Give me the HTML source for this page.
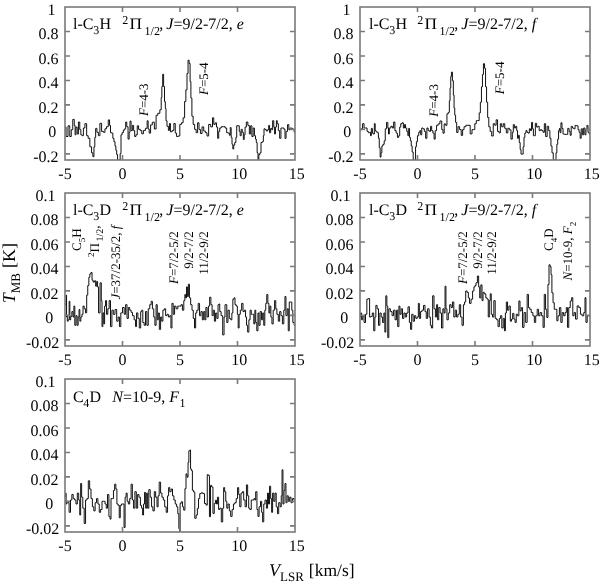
<!DOCTYPE html>
<html><head><meta charset="utf-8"><style>
html,body{margin:0;padding:0;background:#fff;}
svg{display:block;will-change:transform;}
text{font-family:"Liberation Serif",serif;fill:#000;text-rendering:geometricPrecision;}
.tl{font-size:16px;}
.tt{font-size:16px;}
.an{font-size:13px;}
.sb{font-size:12px;}
.sa{font-size:9px;}
.sa2{font-size:10px;}
.it{font-style:italic;}
.al{font-size:18px;}
.als{font-size:13px;}
</style></head>
<body><svg width="600" height="584" viewBox="0 0 600 584">
<rect width="600" height="584" fill="#fff"/>
<clipPath id="c65_7"><rect x="65" y="7" width="230" height="153"/></clipPath>
<polyline clip-path="url(#c65_7)" points="65,127.1 66.05,127.1 66.05,136.5 68,136.5 68,125.8 69.75,125.8 69.75,136.5 71.25,136.5 71.25,129.7 72.75,129.7 72.75,119.4 74.25,119.4 74.25,125.4 75.1,125.4 75.1,134.8 75.95,134.8 75.95,127.1 77.2,127.1 77.2,134 78.45,134 78.45,122 79.75,122 79.75,129.7 80.85,129.7 80.85,134.8 82.15,134.8 82.15,135.7 83.4,135.7 83.4,128 84.9,128 84.9,123.7 86.65,123.7 86.65,135.7 88.15,135.7 88.15,138.3 89.85,138.3 89.85,146.8 91.55,146.8 91.55,152.8 92.85,152.8 92.85,156.7 93.95,156.7 93.95,146.8 94.8,146.8 94.8,137.4 95.65,137.4 95.65,128.4 96.9,128.4 96.9,132.3 98.4,132.3 98.4,135.7 99.9,135.7 99.9,123.3 101.6,123.3 101.6,131.4 103.5,131.4 103.5,132.3 104.95,132.3 104.95,128.8 106.45,128.8 106.45,126.7 108.25,126.7 108.25,119.9 109.55,119.9 109.55,125.4 110.5,125.4 110.5,132.7 111.75,132.7 111.75,133.1 112.85,133.1 112.85,138.3 113.95,138.3 113.95,141.7 115,141.7 115,146 115.85,146 115.85,150.3 116.7,150.3 116.7,154.5 117.55,154.5 117.55,160 118.85,160 118.85,160 120.15,160 120.15,153.7 121,153.7 121,134.8 122.05,134.8 122.05,132.7 123.35,132.7 123.35,130.1 124.65,130.1 124.65,128.8 125.7,128.8 125.7,122 126.75,122 126.75,126.7 128.05,126.7 128.05,139.1 129.15,139.1 129.15,132.3 130,132.3 130,121.1 131.05,121.1 131.05,130.6 132.35,130.6 132.35,125.4 133.65,125.4 133.65,130.6 134.7,130.6 134.7,136.5 135.95,136.5 135.95,134.8 137.25,134.8 137.25,125.8 138.55,125.8 138.55,129.3 140.25,129.3 140.25,130.6 141.75,130.6 141.75,133.8 143.4,133.8 143.4,130.4 145.45,130.4 145.45,128.3 147.15,128.3 147.15,120.8 148.15,120.8 148.15,129 149.2,129 149.2,133.1 150.6,133.1 150.6,124.9 152.3,124.9 152.3,122.2 154.35,122.2 154.35,129 156.1,129 156.1,115.3 157.8,115.3 157.8,113.3 159.85,113.3 159.85,109.8 161.2,109.8 161.2,97.5 161.85,97.5 161.85,86.5 162.7,86.5 162.7,74.2 163.6,74.2 163.6,86.5 164.5,86.5 164.5,101.6 165.35,101.6 165.35,108.5 166,108.5 166,120.8 167,120.8 167,126.3 168.4,126.3 168.4,130.4 169.45,130.4 169.45,123.5 170.45,123.5 170.45,131.8 172.15,131.8 172.15,130.4 173.9,130.4 173.9,123.5 175.25,123.5 175.25,133.1 176.6,133.1 176.6,136.5 178.15,136.5 178.15,136 179.8,136 179.8,124.4 181.45,124.4 181.45,122.8 183.1,122.8 183.1,117.8 184.6,117.8 184.6,101.4 185.85,101.4 185.85,89.9 187,89.9 187,73.4 188.05,73.4 188.05,60.2 189.1,60.2 189.1,63.5 190.1,63.5 190.1,81.6 190.9,81.6 190.9,98.1 191.9,98.1 191.9,116.2 193.15,116.2 193.15,124.4 194.65,124.4 194.65,129.4 196.15,129.4 196.15,132.7 197.6,132.7 197.6,122.8 199,122.8 199,129.4 200.4,129.4 200.4,133.5 202.05,133.5 202.05,126.9 203.7,126.9 203.7,131 205.35,131 205.35,132.7 207,132.7 207,136 208.65,136 208.65,124.4 210.7,124.4 210.7,126.9 212.5,126.9 212.5,117.8 213.75,117.8 213.75,124.4 215.2,124.4 215.2,122.8 216.5,122.8 216.5,127.1 217.65,127.1 217.65,138.3 218.7,138.3 218.7,131.4 219.75,131.4 219.75,128 221.25,128 221.25,126.7 223.2,126.7 223.2,126.7 225.15,126.7 225.15,128 226.65,128 226.65,132.7 228.15,132.7 228.15,133.1 229.4,133.1 229.4,135.3 230.25,135.3 230.25,127.6 231.15,127.6 231.15,137.4 232,137.4 232,144.3 232.85,144.3 232.85,149 233.7,149 233.7,145.1 234.75,145.1 234.75,142.5 235.85,142.5 235.85,137.4 236.7,137.4 236.7,125.8 237.95,125.8 237.95,125.8 239.25,125.8 239.25,131.4 240.15,131.4 240.15,135.7 241.2,135.7 241.2,129.3 242.25,129.3 242.25,132.3 243.35,132.3 243.35,139.5 244.2,139.5 244.2,134.8 245.05,134.8 245.05,127.1 246.35,127.1 246.35,122 247.85,122 247.85,125.4 249.35,125.4 249.35,134 250.65,134 250.65,125.8 251.9,125.8 251.9,136.5 253.15,136.5 253.15,128 254.45,128 254.45,135.7 255.5,135.7 255.5,139.1 256.3,139.1 256.3,142.5 257.15,142.5 257.15,152.8 258,152.8 258,159.7 258.85,159.7 258.85,154.5 259.95,154.5 259.95,152.8 261,152.8 261,142.5 262.25,142.5 262.25,141.7 263.35,141.7 263.35,135.7 264,135.7 264,128.8 265.05,128.8 265.05,129.7 266.35,129.7 266.35,131 267.65,131 267.65,129.7 268.7,129.7 268.7,125.4 269.55,125.4 269.55,132.7 270.65,132.7 270.65,128.4 271.7,128.4 271.7,129.7 272.65,129.7 272.65,120.7 273.75,120.7 273.75,127.1 274.6,127.1 274.6,134 275.45,134 275.45,127.1 276.4,127.1 276.4,120.7 277.25,120.7 277.25,123.7 278.35,123.7 278.35,130.6 279.65,130.6 279.65,138.3 280.95,138.3 280.95,128 282.45,128 282.45,128 283.95,128 283.95,129.3 285,129.3 285,138.3 286.05,138.3 286.05,131.4 287.55,131.4 287.55,124.6 288.85,124.6 288.85,129.7 290.15,129.7 290.15,128 291.65,128 291.65,128.4 292.9,128.4 292.9,129.7 294.25,129.7 294.25,132.3 295,132.3" fill="none" stroke="#111" stroke-width="1.0" stroke-linejoin="miter" stroke-miterlimit="3"/>
<path d="M65,31.48h5M295,31.48h-5M65,55.96h5M295,55.96h-5M65,80.44h5M295,80.44h-5M65,104.92h5M295,104.92h-5M65,129.4h5M295,129.4h-5M65,153.88h5M295,153.88h-5M122.5,160v-5M122.5,7v5M180,160v-5M180,7v5M237.5,160v-5M237.5,7v5" stroke="#7a7a7a" stroke-width="1.6" fill="none"/>
<rect x="65" y="7" width="230" height="153" fill="none" stroke="#7a7a7a" stroke-width="1.6"/>
<text x="55.5" y="15" class="tl" text-anchor="end">1</text>
<text x="58.5" y="39.48" class="tl" text-anchor="end">0.8</text>
<text x="58.5" y="63.96" class="tl" text-anchor="end">0.6</text>
<text x="58.5" y="88.44" class="tl" text-anchor="end">0.4</text>
<text x="58.5" y="112.92" class="tl" text-anchor="end">0.2</text>
<text x="56.3" y="137.4" class="tl" text-anchor="end">0</text>
<text x="58.5" y="161.88" class="tl" text-anchor="end">-0.2</text>
<text x="65" y="178.5" class="tl" text-anchor="middle">-5</text>
<text x="122.5" y="178.5" class="tl" text-anchor="middle">0</text>
<text x="180" y="178.5" class="tl" text-anchor="middle">5</text>
<text x="239.3" y="178.5" class="tl" text-anchor="middle">10</text>
<text x="296.8" y="178.5" class="tl" text-anchor="middle">15</text>
<clipPath id="c360_7"><rect x="360" y="7" width="230" height="153"/></clipPath>
<polyline clip-path="url(#c360_7)" points="360,130.1 360.85,130.1 360.85,128.8 362.55,128.8 362.55,123.7 364.05,123.7 364.05,128 365.55,128 365.55,128 367.05,128 367.05,131.4 368.35,131.4 368.35,132.7 369.65,132.7 369.65,132.3 370.5,132.3 370.5,135.7 371.35,135.7 371.35,128.4 372.4,128.4 372.4,133.1 373.25,133.1 373.25,134 374.35,134 374.35,123.7 375.2,123.7 375.2,130.6 376.05,130.6 376.05,131.8 377.35,131.8 377.35,132.7 378.4,132.7 378.4,138.3 379.25,138.3 379.25,147.7 380.15,147.7 380.15,157.1 381,157.1 381,152.8 381.85,152.8 381.85,146 382.95,146 382.95,144.3 384.2,144.3 384.2,140.8 385.25,140.8 385.25,128.8 386.55,128.8 386.55,122.4 387.85,122.4 387.85,128 388.5,128 388.5,134 389.35,134 389.35,128 390.85,128 390.85,126.3 392.35,126.3 392.35,128 393.65,128 393.65,122 394.9,122 394.9,130.6 396.15,130.6 396.15,133.1 397.45,133.1 397.45,137.4 398.7,137.4 398.7,135.7 399.7,135.7 399.7,127.1 400.75,127.1 400.75,123.7 402.05,123.7 402.05,122.8 403.35,122.8 403.35,128 404.45,128 404.45,124.6 405.5,124.6 405.5,128 406.75,128 406.75,131.4 407.85,131.4 407.85,135.7 408.7,135.7 408.7,128.4 409.55,128.4 409.55,137.4 410.4,137.4 410.4,140.8 411.25,140.8 411.25,146 412.15,146 412.15,152 413.2,152 413.2,160 414.45,160 414.45,160 415.55,160 415.55,146.8 416.4,146.8 416.4,141.7 417.45,141.7 417.45,135.7 418.75,135.7 418.75,132.3 419.85,132.3 419.85,130.6 420.7,130.6 420.7,134.8 421.75,134.8 421.75,128 423.05,128 423.05,128.8 424.35,128.8 424.35,131.4 425.65,131.4 425.65,138.3 426.9,138.3 426.9,128 428.15,128 428.15,130.6 429.45,130.6 429.45,131.4 430.55,131.4 430.55,126.3 431.65,126.3 431.65,130.6 432.9,130.6 432.9,133.1 434.1,133.1 434.1,139.1 435.2,139.1 435.2,130.6 436.55,130.6 436.55,125.3 438.15,125.3 438.15,123.9 439.95,123.9 439.95,121 441.75,121 441.75,129.6 443,129.6 443,133.2 444.2,133.2 444.2,123.9 445.65,123.9 445.65,125.3 446.95,125.3 446.95,113.8 448.25,113.8 448.25,112.4 449.35,112.4 449.35,100.8 450.05,100.8 450.05,87.9 450.75,87.9 450.75,76.4 451.45,76.4 451.45,72.1 452.4,72.1 452.4,80.7 453.35,80.7 453.35,95.1 454.05,95.1 454.05,108 454.75,108 454.75,115.2 455.6,115.2 455.6,122.4 456.7,122.4 456.7,132.5 458,132.5 458,126.7 459.6,126.7 459.6,129.6 461.2,129.6 461.2,135.4 462.6,135.4 462.6,129.6 464.05,129.6 464.05,126.7 465.85,126.7 465.85,125.3 468,125.3 468,125.3 470.2,125.3 470.2,133.9 472,133.9 472,129.6 473.4,129.6 473.4,129.6 474.8,129.6 474.8,123.7 476.3,123.7 476.3,120.6 477.85,120.6 477.85,120.6 479.2,120.6 479.2,112.9 480.35,112.9 480.35,102.2 481.45,102.2 481.45,86.8 482.45,86.8 482.45,74.5 483.45,74.5 483.45,63.7 484.55,63.7 484.55,68.3 485.55,68.3 485.55,86.8 486.55,86.8 486.55,102.2 487.65,102.2 487.65,117.5 488.8,117.5 488.8,126.8 490.15,126.8 490.15,131.4 491.7,131.4 491.7,136 493.25,136 493.25,123.7 494.75,123.7 494.75,125.2 496.15,125.2 496.15,119.8 497.55,119.8 497.55,131.4 499.05,131.4 499.05,132.9 500.35,132.9 500.35,123.7 501.7,123.7 501.7,126.8 503.25,126.8 503.25,123.7 504.75,123.7 504.75,128.3 506.3,128.3 506.3,132.9 507.85,132.9 507.85,128.3 509.4,128.3 509.4,129.8 510.95,129.8 510.95,139.1 512.3,139.1 512.3,132.3 513.3,132.3 513.3,124.6 514.35,124.6 514.35,128 515.65,128 515.65,126.3 516.7,126.3 516.7,130.6 517.55,130.6 517.55,138.3 518.45,138.3 518.45,135.3 519.3,135.3 519.3,142.5 520.15,142.5 520.15,149.4 521,149.4 521,154.1 522.05,154.1 522.05,154.1 523.15,154.1 523.15,146.8 524,146.8 524,137.4 524.85,137.4 524.85,133.1 525.95,133.1 525.95,130.6 527,130.6 527,132.3 528.05,132.3 528.05,133.1 529.35,133.1 529.35,128.8 530.5,128.8 530.5,130.6 531.55,130.6 531.55,122.4 532.55,122.4 532.55,128.8 533.4,128.8 533.4,135.7 534.25,135.7 534.25,135.7 535.35,135.7 535.35,123.3 536.65,123.3 536.65,127.1 537.95,127.1 537.95,126.3 539.2,126.3 539.2,130.6 540.45,130.6 540.45,129.7 541.75,129.7 541.75,130.6 543.05,130.6 543.05,132.3 544.35,132.3 544.35,123.7 545.65,123.7 545.65,136.5 547.15,136.5 547.15,126.3 548.65,126.3 548.65,130.6 549.9,130.6 549.9,138.3 550.95,138.3 550.95,146 552,146 552,152.8 553.25,152.8 553.25,160 554.75,160 554.75,160 556,160 556,152.8 556.85,152.8 556.85,144.3 557.7,144.3 557.7,139.1 558.55,139.1 558.55,130.6 559.45,130.6 559.45,128.4 560.1,128.4 560.1,132.7 560.95,132.7 560.95,122.8 562,122.8 562,128.4 563.05,128.4 563.05,134 564.55,134 564.55,134.4 566.25,134.4 566.25,134.4 567.75,134.4 567.75,128.4 569.05,128.4 569.05,131.4 570.15,131.4 570.15,135.3 571.2,135.3 571.2,126.3 572.45,126.3 572.45,128 573.75,128 573.75,128.8 575.05,128.8 575.05,125.4 576.55,125.4 576.55,125.8 578.05,125.8 578.05,129.7 579.15,129.7 579.15,132.3 580.15,132.3 580.15,138.3 581.2,138.3 581.2,128.8 582.35,128.8 582.35,134.8 583.65,134.8 583.65,128 584.9,128 584.9,134.8 585.95,134.8 585.95,129.7 586.95,129.7 586.95,125.4 588,125.4 588,132.3 589.25,132.3 589.25,134 590,134" fill="none" stroke="#111" stroke-width="1.0" stroke-linejoin="miter" stroke-miterlimit="3"/>
<path d="M360,31.48h5M590,31.48h-5M360,55.96h5M590,55.96h-5M360,80.44h5M590,80.44h-5M360,104.92h5M590,104.92h-5M360,129.4h5M590,129.4h-5M360,153.88h5M590,153.88h-5M417.5,160v-5M417.5,7v5M475,160v-5M475,7v5M532.5,160v-5M532.5,7v5" stroke="#7a7a7a" stroke-width="1.6" fill="none"/>
<rect x="360" y="7" width="230" height="153" fill="none" stroke="#7a7a7a" stroke-width="1.6"/>
<text x="350.5" y="15" class="tl" text-anchor="end">1</text>
<text x="353.5" y="39.48" class="tl" text-anchor="end">0.8</text>
<text x="353.5" y="63.96" class="tl" text-anchor="end">0.6</text>
<text x="353.5" y="88.44" class="tl" text-anchor="end">0.4</text>
<text x="353.5" y="112.92" class="tl" text-anchor="end">0.2</text>
<text x="351.3" y="137.4" class="tl" text-anchor="end">0</text>
<text x="353.5" y="161.88" class="tl" text-anchor="end">-0.2</text>
<text x="360" y="178.5" class="tl" text-anchor="middle">-5</text>
<text x="417.5" y="178.5" class="tl" text-anchor="middle">0</text>
<text x="475" y="178.5" class="tl" text-anchor="middle">5</text>
<text x="534.3" y="178.5" class="tl" text-anchor="middle">10</text>
<text x="591.8" y="178.5" class="tl" text-anchor="middle">15</text>
<clipPath id="c65_193"><rect x="65" y="193" width="230" height="153"/></clipPath>
<polyline clip-path="url(#c65_193)" points="65,305 65.5,305 65.5,305 66.15,305 66.15,295.1 66.55,295.1 66.55,317 66.95,317 66.95,315.7 67.3,315.7 67.3,321.2 68.15,321.2 68.15,319.8 69.15,319.8 69.15,301.3 69.85,301.3 69.85,319.8 70.7,319.8 70.7,316.4 71.85,316.4 71.85,311.6 73,311.6 73,317 73.9,317 73.9,306.1 74.8,306.1 74.8,325.3 75.95,325.3 75.95,315.7 77.1,315.7 77.1,325.3 78.15,325.3 78.15,317 79.05,317 79.05,309.5 79.85,309.5 79.85,321.2 80.85,321.2 80.85,317 81.95,317 81.95,314.3 83,314.3 83,306.1 84.2,306.1 84.2,308.8 85.55,308.8 85.55,312.9 86.7,312.9 86.7,295.1 87.75,295.1 87.75,285.5 88.85,285.5 88.85,277.3 89.85,277.3 89.85,273.9 91,273.9 91,272.5 92.05,272.5 92.05,280.1 93.1,280.1 93.1,282.1 94.45,282.1 94.45,280.8 95.65,280.8 95.65,286.2 96.7,286.2 96.7,281.4 97.55,281.4 97.55,286.9 98.55,286.9 98.55,312.9 100.05,312.9 100.05,282.8 101.3,282.8 101.3,300.6 102,300.6 102,326.6 102.85,326.6 102.85,312.9 103.75,312.9 103.75,323.9 104.6,323.9 104.6,306.1 105.55,306.1 105.55,300.6 106.55,300.6 106.55,314.3 107.8,314.3 107.8,308.8 109.15,308.8 109.15,300.6 110.5,300.6 110.5,326.6 111.9,326.6 111.9,310.2 113.3,310.2 113.3,314.3 115,314.3 115,309.5 116.7,309.5 116.7,321.2 118.1,321.2 118.1,317 119.45,317 119.45,326.6 120.8,326.6 120.8,312.9 122.5,312.9 122.5,307.5 124.2,307.5 124.2,314.3 125.6,314.3 125.6,304.7 127,304.7 127,318.4 128.35,318.4 128.35,307.5 129.7,307.5 129.7,310.2 131.1,310.2 131.1,312.3 132.45,312.3 132.45,315.7 134.15,315.7 134.15,319.8 135.55,319.8 135.55,326.6 136.55,326.6 136.55,312.9 137.9,312.9 137.9,318.4 139.3,318.4 139.3,328 140.7,328 140.7,311.6 141.75,311.6 141.75,310.2 142.8,310.2 142.8,322.5 144.15,322.5 144.15,325.3 145.5,325.3 145.5,311.6 146.9,311.6 146.9,325.3 148.25,325.3 148.25,308.8 149.75,308.8 149.75,304.7 151.15,304.7 151.15,301.3 152.4,301.3 152.4,308.8 153.75,308.8 153.75,317 154.9,317 154.9,325.3 156.1,325.3 156.1,304.7 157.25,304.7 157.25,319.8 158.25,319.8 158.25,313 159.35,313 159.35,329.4 160.6,329.4 160.6,317 161.75,317 161.75,321.2 162.9,321.2 162.9,310.2 164.3,310.2 164.3,308.8 165.65,308.8 165.65,315.7 167,315.7 167,314.3 168.4,314.3 168.4,317 169.8,317 169.8,315.7 170.95,315.7 170.95,328 171.95,328 171.95,303.4 173.2,303.4 173.2,314.3 174.55,314.3 174.55,306.1 176.05,306.1 176.05,308.8 177.8,308.8 177.8,306.1 179.55,306.1 179.55,306.1 181.05,306.1 181.05,304.7 182.4,304.7 182.4,310.2 183.8,310.2 183.8,300.6 184.85,300.6 184.85,294.5 185.65,294.5 185.65,297.9 186.5,297.9 186.5,286.9 187.4,286.9 187.4,296.5 188.4,296.5 188.4,284.2 189.45,284.2 189.45,297.9 190.65,297.9 190.65,304.7 192,304.7 192,310.2 193.25,310.2 193.25,318.4 194.5,318.4 194.5,328 195.65,328 195.65,313 196.8,313 196.8,310.2 198.2,310.2 198.2,303.4 199.55,303.4 199.55,315.7 200.9,315.7 200.9,311.6 202.3,311.6 202.3,319.8 203.65,319.8 203.65,311.6 204.8,311.6 204.8,319.8 205.85,319.8 205.85,307.5 207.1,307.5 207.1,317 208.45,317 208.45,306.1 209.65,306.1 209.65,297.2 210.9,297.2 210.9,304.7 212.1,304.7 212.1,315.7 213.25,315.7 213.25,310.2 214.4,310.2 214.4,321.2 215.6,321.2 215.6,313 216.85,313 216.85,318.4 218.05,318.4 218.05,304.7 218.9,304.7 218.9,304 219.75,304 219.75,311.6 221.1,311.6 221.1,315.7 222.7,315.7 222.7,334.9 224.05,334.9 224.05,317 225,317 225,304.7 225.9,304.7 225.9,304.7 226.8,304.7 226.8,322.5 227.95,322.5 227.95,310.2 229.3,310.2 229.3,318.4 230.7,318.4 230.7,319.8 231.85,319.8 231.85,313 232.85,313 232.85,299.2 233.95,299.2 233.95,297.9 235,297.9 235,304.7 236.2,304.7 236.2,306.1 237.35,306.1 237.35,314.3 238.2,314.3 238.2,328 239.1,328 239.1,314.3 240.3,314.3 240.3,310.2 241.65,310.2 241.65,303.4 243,303.4 243,311.6 244.4,311.6 244.4,310.2 245.55,310.2 245.55,317 246.55,317 246.55,325.3 247.65,325.3 247.65,332.1 248.9,332.1 248.9,319.8 250.1,319.8 250.1,310.2 251.25,310.2 251.25,314.3 252.6,314.3 252.6,314.3 253.8,314.3 253.8,323.9 254.85,323.9 254.85,310.2 255.75,310.2 255.75,322.5 256.8,322.5 256.8,330.8 257.95,330.8 257.95,313 258.9,313 258.9,325.3 260.1,325.3 260.1,311.6 261.45,311.6 261.45,319.8 262.65,319.8 262.65,313 263.75,313 263.75,325.3 264.8,325.3 264.8,310.2 265.75,310.2 265.75,303.4 266.75,303.4 266.75,294.5 267.85,294.5 267.85,303.4 268.9,303.4 268.9,313 269.85,313 269.85,306.1 270.85,306.1 270.85,317 271.95,317 271.95,323.9 273.2,323.9 273.2,310.2 274.6,310.2 274.6,300.6 275.75,300.6 275.75,308.8 276.9,308.8 276.9,314.3 278.3,314.3 278.3,321.2 279.65,321.2 279.65,311.6 281,311.6 281,315.7 282.4,315.7 282.4,323.9 283.8,323.9 283.8,310.2 284.95,310.2 284.95,296.5 285.95,296.5 285.95,315.7 287.2,315.7 287.2,308.8 288.25,308.8 288.25,330.8 289.25,330.8 289.25,302 290.6,302 290.6,302 291.8,302 291.8,310.2 292.85,310.2 292.85,322.5 294.2,322.5 294.2,325.3 295,325.3" fill="none" stroke="#111" stroke-width="1.0" stroke-linejoin="miter" stroke-miterlimit="3"/>
<path d="M65,217.48h5M295,217.48h-5M65,241.96h5M295,241.96h-5M65,266.44h5M295,266.44h-5M65,290.92h5M295,290.92h-5M65,315.4h5M295,315.4h-5M65,339.88h5M295,339.88h-5M122.5,346v-5M122.5,193v5M180,346v-5M180,193v5M237.5,346v-5M237.5,193v5" stroke="#7a7a7a" stroke-width="1.6" fill="none"/>
<rect x="65" y="193" width="230" height="153" fill="none" stroke="#7a7a7a" stroke-width="1.6"/>
<text x="55.5" y="201" class="tl" text-anchor="end">0.1</text>
<text x="58.5" y="225.48" class="tl" text-anchor="end">0.08</text>
<text x="58.5" y="249.96" class="tl" text-anchor="end">0.06</text>
<text x="58.5" y="274.44" class="tl" text-anchor="end">0.04</text>
<text x="58.5" y="298.92" class="tl" text-anchor="end">0.02</text>
<text x="53.3" y="323.4" class="tl" text-anchor="end">0</text>
<text x="59.3" y="347.88" class="tl" text-anchor="end">-0.02</text>
<text x="65" y="364.5" class="tl" text-anchor="middle">-5</text>
<text x="122.5" y="364.5" class="tl" text-anchor="middle">0</text>
<text x="180" y="364.5" class="tl" text-anchor="middle">5</text>
<text x="239.3" y="364.5" class="tl" text-anchor="middle">10</text>
<text x="296.8" y="364.5" class="tl" text-anchor="middle">15</text>
<clipPath id="c360_193"><rect x="360" y="193" width="230" height="153"/></clipPath>
<polyline clip-path="url(#c360_193)" points="360,317 360.55,317 360.55,313 361.6,313 361.6,319.8 362.75,319.8 362.75,315.7 364.1,315.7 364.1,322.5 365.5,322.5 365.5,314.3 366.85,314.3 366.85,299.2 368.2,299.2 368.2,298.6 369.6,298.6 369.6,317 370.95,317 370.95,316.4 372.3,316.4 372.3,313 373.7,313 373.7,330.8 374.85,330.8 374.85,317 375.85,317 375.85,305.4 377.1,305.4 377.1,308.8 378.5,308.8 378.5,325.3 379.85,325.3 379.85,313 381.2,313 381.2,317 382.6,317 382.6,322.5 383.85,322.5 383.85,313 384.85,313 384.85,332.1 385.8,332.1 385.8,295.8 386.85,295.8 386.85,306.1 387.75,306.1 387.75,337.6 388.8,337.6 388.8,308.8 390.35,308.8 390.35,311.6 392.05,311.6 392.05,315.7 393.55,315.7 393.55,310.2 395.05,310.2 395.05,319.8 396.45,319.8 396.45,310.2 397.7,310.2 397.7,326.6 398.9,326.6 398.9,306.1 399.95,306.1 399.95,314.3 401.15,314.3 401.15,308.8 402.5,308.8 402.5,318.4 403.9,318.4 403.9,313 405.25,313 405.25,317 406.6,317 406.6,313 408,313 408,306.8 409.4,306.8 409.4,322.5 410.55,322.5 410.55,329.4 411.7,329.4 411.7,314.3 413.1,314.3 413.1,321.2 414.45,321.2 414.45,315.7 415.8,315.7 415.8,318.4 417.2,318.4 417.2,317 418.35,317 418.35,303.4 419.35,303.4 419.35,318.4 420.6,318.4 420.6,311.6 422,311.6 422,310.2 423.5,310.2 423.5,305.4 425,305.4 425,311.6 426.25,311.6 426.25,318.4 427.6,318.4 427.6,308.8 429.1,308.8 429.1,317 430.35,317 430.35,325.3 431.45,325.3 431.45,328 432.65,328 432.65,295.8 434,295.8 434,308.8 435.4,308.8 435.4,317 436.6,317 436.6,304.7 437.6,304.7 437.6,319.8 438.75,319.8 438.75,307.5 440.1,307.5 440.1,313 441.5,313 441.5,328 442.85,328 442.85,308.8 444,308.8 444,313 445.05,313 445.05,286.2 445.95,286.2 445.95,308.8 446.95,308.8 446.95,319.8 448.3,319.8 448.3,313 449.7,313 449.7,304.7 451.1,304.7 451.1,307.5 452.45,307.5 452.45,302 453.8,302 453.8,317 455.2,317 455.2,310.2 456.55,310.2 456.55,317 457.9,317 457.9,314.3 459.3,314.3 459.3,304.7 460.65,304.7 460.65,317 462,317 462,325.3 463.4,325.3 463.4,304.7 464.55,304.7 464.55,302 465.7,302 465.7,291 467.1,291 467.1,292.4 468.35,292.4 468.35,297.9 469.55,297.9 469.55,303.4 471.05,303.4 471.05,299.2 472.6,299.2 472.6,291 473.95,291 473.95,286.9 475,286.9 475,285.5 476.05,285.5 476.05,282.8 477.4,282.8 477.4,276 478.65,276 478.65,286.9 479.7,286.9 479.7,297.9 480.85,297.9 480.85,284.9 482,284.9 482,300.6 483.05,300.6 483.05,292.4 484.3,292.4 484.3,293.8 485.8,293.8 485.8,297.9 487.15,297.9 487.15,299.2 488.25,299.2 488.25,317 489.3,317 489.3,300.6 490.25,300.6 490.25,293.8 491.25,293.8 491.25,314.3 492.5,314.3 492.5,317 493.85,317 493.85,300.6 495.2,300.6 495.2,318.4 496.6,318.4 496.6,319.8 498,319.8 498,326.6 499.35,326.6 499.35,318.4 500.55,318.4 500.55,315.7 501.8,315.7 501.8,328 503.2,328 503.2,318.4 504.45,318.4 504.45,330.8 505.4,330.8 505.4,313 506.35,313 506.35,302 507.55,302 507.55,310.2 508.9,310.2 508.9,306.1 510.3,306.1 510.3,321.2 511.5,321.2 511.5,319.1 512.65,319.1 512.65,313.4 513.9,313.4 513.9,319.1 515.05,319.1 515.05,322.4 516.25,322.4 516.25,314.2 517.6,314.2 517.6,315.8 518.85,315.8 518.85,301 520,301 520,310.9 521.25,310.9 521.25,307.6 522.55,307.6 522.55,327.4 524,327.4 524,312.6 525.65,312.6 525.65,322.4 527.15,322.4 527.15,294.4 528.45,294.4 528.45,307.6 529.75,307.6 529.75,309.3 531.25,309.3 531.25,312.6 532.9,312.6 532.9,315.8 534.35,315.8 534.35,322.4 535.7,322.4 535.7,315.8 537.2,315.8 537.2,309.3 538.6,309.3 538.6,315.8 540,315.8 540,312.6 541.65,312.6 541.65,315.8 543.05,315.8 543.05,327.4 544.25,327.4 544.25,294.4 545.55,294.4 545.55,309.3 546.8,309.3 546.8,317.5 547.95,317.5 547.95,284.6 549,284.6 549,264.8 550.1,264.8 550.1,266.5 551,266.5 551,274.7 551.9,274.7 551.9,292.8 553.05,292.8 553.05,302.7 554.25,302.7 554.25,309.3 555.6,309.3 555.6,309.3 556.85,309.3 556.85,320.8 558,320.8 558,315.8 559.4,315.8 559.4,307.6 560.85,307.6 560.85,322.4 562.15,322.4 562.15,312.6 563.65,312.6 563.65,315.8 565.05,315.8 565.05,312.6 566.3,312.6 566.3,307.6 567.55,307.6 567.55,327.4 568.75,327.4 568.75,307.6 570.25,307.6 570.25,301 571.65,301 571.65,297.7 572.8,297.7 572.8,315.8 574.05,315.8 574.05,312.6 575.5,312.6 575.5,319.1 577.15,319.1 577.15,305.9 578.8,305.9 578.8,307.6 580.45,307.6 580.45,314.2 582.1,314.2 582.1,315.8 583.75,315.8 583.75,312.6 585,312.6 585,297.7 585.95,297.7 585.95,322.4 587.2,322.4 587.2,315.8 588.95,315.8 588.95,315.8 590,315.8" fill="none" stroke="#111" stroke-width="1.0" stroke-linejoin="miter" stroke-miterlimit="3"/>
<path d="M360,217.48h5M590,217.48h-5M360,241.96h5M590,241.96h-5M360,266.44h5M590,266.44h-5M360,290.92h5M590,290.92h-5M360,315.4h5M590,315.4h-5M360,339.88h5M590,339.88h-5M417.5,346v-5M417.5,193v5M475,346v-5M475,193v5M532.5,346v-5M532.5,193v5" stroke="#7a7a7a" stroke-width="1.6" fill="none"/>
<rect x="360" y="193" width="230" height="153" fill="none" stroke="#7a7a7a" stroke-width="1.6"/>
<text x="350.5" y="201" class="tl" text-anchor="end">0.1</text>
<text x="353.5" y="225.48" class="tl" text-anchor="end">0.08</text>
<text x="353.5" y="249.96" class="tl" text-anchor="end">0.06</text>
<text x="353.5" y="274.44" class="tl" text-anchor="end">0.04</text>
<text x="353.5" y="298.92" class="tl" text-anchor="end">0.02</text>
<text x="348.3" y="323.4" class="tl" text-anchor="end">0</text>
<text x="354.3" y="347.88" class="tl" text-anchor="end">-0.02</text>
<text x="360" y="364.5" class="tl" text-anchor="middle">-5</text>
<text x="417.5" y="364.5" class="tl" text-anchor="middle">0</text>
<text x="475" y="364.5" class="tl" text-anchor="middle">5</text>
<text x="534.3" y="364.5" class="tl" text-anchor="middle">10</text>
<text x="591.8" y="364.5" class="tl" text-anchor="middle">15</text>
<clipPath id="c65_379"><rect x="65" y="379" width="230" height="153"/></clipPath>
<polyline clip-path="url(#c65_379)" points="65,497 65.4,497 65.4,493.1 66.1,493.1 66.1,504 66.85,504 66.85,501.3 67.85,501.3 67.85,502.7 69.1,502.7 69.1,512.3 70.5,512.3 70.5,500 71.85,500 71.85,494.5 73.2,494.5 73.2,498.6 74.6,498.6 74.6,500 75.95,500 75.95,504 77.3,504 77.3,493.1 78.7,493.1 78.7,500 79.75,500 79.75,515 80.65,515 80.65,483.5 81.65,483.5 81.65,497.2 82.8,497.2 82.8,508.2 84.2,508.2 84.2,523.5 85.55,523.5 85.55,500 86.9,500 86.9,498.6 88.3,498.6 88.3,480.8 89.65,480.8 89.65,489 91,489 91,498.6 92.4,498.6 92.4,506.8 93.8,506.8 93.8,510.9 95.15,510.9 95.15,502.7 96.5,502.7 96.5,498.6 97.9,498.6 97.9,504 99.25,504 99.25,512.3 100.6,512.3 100.6,509.5 102,509.5 102,501.3 103.55,501.3 103.55,501.3 105.05,501.3 105.05,504 106.25,504 106.25,508.2 107.5,508.2 107.5,494.5 108.9,494.5 108.9,516.4 110.05,516.4 110.05,519.1 111,519.1 111,498.6 112.2,498.6 112.2,498.6 113.45,498.6 113.45,490.4 114.65,490.4 114.65,484.2 115.85,484.2 115.85,489 116.9,489 116.9,504 118.1,504 118.1,505.4 119.25,505.4 119.25,517.8 120.25,517.8 120.25,505.4 121.5,505.4 121.5,504 122.85,504 122.85,504 124.05,504 124.05,527.5 125.1,527.5 125.1,497.2 126.1,497.2 126.1,493.1 127.15,493.1 127.15,501.3 128.35,501.3 128.35,504 129.7,504 129.7,498.6 131.1,498.6 131.1,484.2 132.35,484.2 132.35,500 133.55,500 133.55,508.2 134.9,508.2 134.9,491.7 136.3,491.7 136.3,508.2 137.65,508.2 137.65,494.5 139,494.5 139,497.2 140.4,497.2 140.4,505.4 141.6,505.4 141.6,508.2 142.6,508.2 142.6,515 143.55,515 143.55,504 144.55,504 144.55,492.4 145.65,492.4 145.65,508.2 146.7,508.2 146.7,493.1 147.65,493.1 147.65,508.2 148.8,508.2 148.8,489.7 150.2,489.7 150.2,497.2 151.55,497.2 151.55,506.8 152.9,506.8 152.9,510.9 154.3,510.9 154.3,491.7 155.65,491.7 155.65,497.2 157,497.2 157,506.8 158.1,506.8 158.1,495.8 159.2,495.8 159.2,482.1 160.6,482.1 160.6,493.1 161.95,493.1 161.95,497.2 163.3,497.2 163.3,500 164.7,500 164.7,506.8 166.2,506.8 166.2,512.3 167.55,512.3 167.55,495.8 168.6,495.8 168.6,487.6 169.8,487.6 169.8,491.7 171.15,491.7 171.15,489 172.5,489 172.5,495.8 173.9,495.8 173.9,500 175.25,500 175.25,504 176.6,504 176.6,506.8 177.8,506.8 177.8,513.7 178.85,513.7 178.85,528.7 179.65,528.7 179.65,531.5 180.1,531.5 180.1,503.5 181.15,503.5 181.15,501.8 182.55,501.8 182.55,506.8 183.7,506.8 183.7,510.1 184.95,510.1 184.95,488.7 186,488.7 186,473.9 187,473.9 187,477.2 188.05,477.2 188.05,462.3 188.85,462.3 188.85,450.8 189.7,450.8 189.7,450 190.55,450 190.55,468.9 191.35,468.9 191.35,470.6 192.4,470.6 192.4,490.3 193.55,490.3 193.55,492 194.8,492 194.8,518.3 196.15,518.3 196.15,515 197.35,515 197.35,508.4 198.5,508.4 198.5,498.6 199.75,498.6 199.75,493.6 201.2,493.6 201.2,492.8 202.85,492.8 202.85,493.6 204.5,493.6 204.5,503.5 206,503.5 206,505.1 207.25,505.1 207.25,474.7 208.4,474.7 208.4,475.5 209.45,475.5 209.45,516.7 210.5,516.7 210.5,485.4 211.7,485.4 211.7,487 212.95,487 212.95,513.4 214.25,513.4 214.25,503.5 215.45,503.5 215.45,500.2 216.5,500.2 216.5,504 217.55,504 217.55,497.2 218.6,497.2 218.6,509.5 219.75,509.5 219.75,508.2 221.3,508.2 221.3,521.9 222.7,521.9 222.7,508.2 223.65,508.2 223.65,487.6 224.65,487.6 224.65,491.7 225.75,491.7 225.75,501.3 226.8,501.3 226.8,508.2 227.95,508.2 227.95,504 229.3,504 229.3,510.9 230.7,510.9 230.7,516.4 232.1,516.4 232.1,509.5 233.45,509.5 233.45,504 234.8,504 234.8,502.7 236.2,502.7 236.2,498.6 237.55,498.6 237.55,487.6 238.7,487.6 238.7,494.5 239.75,494.5 239.75,506.8 241,506.8 241,493.1 242.35,493.1 242.35,491.7 243.7,491.7 243.7,500 245.1,500 245.1,506.8 246.45,506.8 246.45,484.9 247.65,484.9 247.65,495.8 248.7,495.8 248.7,508.2 249.9,508.2 249.9,509.5 251.25,509.5 251.25,500 252.6,500 252.6,500 254,500 254,498.6 254.85,498.6 254.85,500 255.7,500 255.7,491.7 256.95,491.7 256.95,509.5 257.95,509.5 257.95,516.4 259.1,516.4 259.1,506.8 260.5,506.8 260.5,501.3 261.65,501.3 261.65,512.3 262.65,512.3 262.65,521.9 263.75,521.9 263.75,504 265,504 265,500 266.4,500 266.4,508.2 267.55,508.2 267.55,493.1 268.5,493.1 268.5,504 269.55,504 269.55,486.2 270.65,486.2 270.65,498.6 271.65,498.6 271.65,512.3 272.6,512.3 272.6,493.1 273.8,493.1 273.8,501.3 275,501.3 275,493.1 276.2,493.1 276.2,506.8 277.45,506.8 277.45,513.7 278.7,513.7 278.7,502.7 280.1,502.7 280.1,506.8 281.25,506.8 281.25,495.8 282.05,495.8 282.05,469.8 282.95,469.8 282.95,504 284,504 284,490.4 284.95,490.4 284.95,483.5 285.95,483.5 285.95,502.7 287.05,502.7 287.05,495.8 288.3,495.8 288.3,501.3 289.65,501.3 289.65,497.2 291,497.2 291,502.7 292.4,502.7 292.4,498.6 294.05,498.6 294.05,500 295,500" fill="none" stroke="#111" stroke-width="1.0" stroke-linejoin="miter" stroke-miterlimit="3"/>
<path d="M65,403.48h5M295,403.48h-5M65,427.96h5M295,427.96h-5M65,452.44h5M295,452.44h-5M65,476.92h5M295,476.92h-5M65,501.4h5M295,501.4h-5M65,525.88h5M295,525.88h-5M122.5,532v-5M122.5,379v5M180,532v-5M180,379v5M237.5,532v-5M237.5,379v5" stroke="#7a7a7a" stroke-width="1.6" fill="none"/>
<rect x="65" y="379" width="230" height="153" fill="none" stroke="#7a7a7a" stroke-width="1.6"/>
<text x="55.5" y="387" class="tl" text-anchor="end">0.1</text>
<text x="58.5" y="411.48" class="tl" text-anchor="end">0.08</text>
<text x="58.5" y="435.96" class="tl" text-anchor="end">0.06</text>
<text x="58.5" y="460.44" class="tl" text-anchor="end">0.04</text>
<text x="58.5" y="484.92" class="tl" text-anchor="end">0.02</text>
<text x="53.3" y="509.4" class="tl" text-anchor="end">0</text>
<text x="59.3" y="533.88" class="tl" text-anchor="end">-0.02</text>
<text x="65" y="550.5" class="tl" text-anchor="middle">-5</text>
<text x="122.5" y="550.5" class="tl" text-anchor="middle">0</text>
<text x="180" y="550.5" class="tl" text-anchor="middle">5</text>
<text x="239.3" y="550.5" class="tl" text-anchor="middle">10</text>
<text x="296.8" y="550.5" class="tl" text-anchor="middle">15</text>
<text x="73" y="29" class="tt">l-C</text>
<text x="93.3" y="34.3" class="sb">3</text>
<text x="99.6" y="29" class="tt">H</text>
<text x="122.3" y="24" class="sb">2</text>
<text transform="translate(129.4,29) scale(1.08,1)" class="tt">&#928;</text>
<text x="144.6" y="34.5" class="sb">1/2</text>
<text x="159.2" y="29" class="tt">,</text>
<text x="166.3" y="29" class="tt"><tspan class="it">J</tspan>=9/2-7/2, <tspan class="it">e</tspan></text>
<text x="369" y="29" class="tt">l-C</text>
<text x="389.3" y="34.3" class="sb">3</text>
<text x="395.6" y="29" class="tt">H</text>
<text x="417.3" y="24" class="sb">2</text>
<text transform="translate(424.4,29) scale(1.08,1)" class="tt">&#928;</text>
<text x="439.6" y="34.5" class="sb">1/2</text>
<text x="454.2" y="29" class="tt">,</text>
<text x="461.3" y="29" class="tt"><tspan class="it">J</tspan>=9/2-7/2, <tspan class="it">f</tspan></text>
<text x="73" y="215" class="tt">l-C</text>
<text x="93.3" y="220.3" class="sb">3</text>
<text x="99.6" y="215" class="tt">D</text>
<text x="122.3" y="210" class="sb">2</text>
<text transform="translate(129.4,215) scale(1.08,1)" class="tt">&#928;</text>
<text x="144.6" y="220.5" class="sb">1/2</text>
<text x="159.2" y="215" class="tt">,</text>
<text x="166.3" y="215" class="tt"><tspan class="it">J</tspan>=9/2-7/2, <tspan class="it">e</tspan></text>
<text x="369" y="215" class="tt">l-C</text>
<text x="389.3" y="220.3" class="sb">3</text>
<text x="395.6" y="215" class="tt">D</text>
<text x="417.3" y="210" class="sb">2</text>
<text transform="translate(424.4,215) scale(1.08,1)" class="tt">&#928;</text>
<text x="439.6" y="220.5" class="sb">1/2</text>
<text x="454.2" y="215" class="tt">,</text>
<text x="461.3" y="215" class="tt"><tspan class="it">J</tspan>=9/2-7/2, <tspan class="it">f</tspan></text>
<text x="73" y="401.5" class="tt">C</text>
<text x="83.2" y="406.8" class="sb">4</text>
<text x="89.5" y="401.5" class="tt">D</text>
<text x="112.3" y="401.5" class="tt"><tspan class="it">N</tspan>=10-9, <tspan class="it">F</tspan></text>
<text x="179.5" y="406.8" class="sb">1</text>
<text transform="translate(148,116) rotate(-90)" class="an" text-anchor="start"><tspan class="it">F</tspan>=4-3</text>
<text transform="translate(208.3,95) rotate(-90)" class="an" text-anchor="start"><tspan class="it">F</tspan>=5-4</text>
<text transform="translate(438.3,116.7) rotate(-90)" class="an" text-anchor="start"><tspan class="it">F</tspan>=4-3</text>
<text transform="translate(504.2,94.2) rotate(-90)" class="an" text-anchor="start"><tspan class="it">F</tspan>=5-4</text>
<text transform="translate(80.8,251) rotate(-90)" class="an" text-anchor="start">C<tspan class="sa" dy="4">5</tspan><tspan dy="-4">H</tspan></text>
<text transform="translate(99.1,257) rotate(-90)" class="an" text-anchor="start"><tspan class="sa" dy="-5">2</tspan><tspan dy="5">&#928;</tspan><tspan class="sa2" dy="4" dx="1.5">1/2</tspan><tspan dy="-4">,</tspan></text>
<text transform="translate(119.5,299.5) rotate(-90)" class="an" text-anchor="start"><tspan class="it">J</tspan>=37/2-35/2, <tspan class="it">f</tspan></text>
<text transform="translate(178.3,231.2) rotate(-90)" class="an" text-anchor="end"><tspan class="it">F</tspan>=7/2-5/2</text>
<text transform="translate(192.9,231.2) rotate(-90)" class="an" text-anchor="end">9/2-7/2</text>
<text transform="translate(207.9,231.2) rotate(-90)" class="an" text-anchor="end">11/2-9/2</text>
<text transform="translate(467.3,231.2) rotate(-90)" class="an" text-anchor="end"><tspan class="it">F</tspan>=7/2-5/2</text>
<text transform="translate(481.7,231.2) rotate(-90)" class="an" text-anchor="end">9/2-7/2</text>
<text transform="translate(496.2,231.2) rotate(-90)" class="an" text-anchor="end">11/2-9/2</text>
<text transform="translate(552.8,251) rotate(-90)" class="an" text-anchor="start">C<tspan class="sa" dy="4">4</tspan><tspan dy="-4">D</tspan></text>
<text transform="translate(572,280.5) rotate(-90)" class="an" text-anchor="start"><tspan class="it">N</tspan>=10-9, <tspan class="it">F</tspan><tspan class="sa" dy="4">2</tspan></text>
<text x="269" y="575.5" class="al"><tspan class="it">V</tspan><tspan class="als" dy="5" dx="0">LSR</tspan><tspan dy="-5" dx="5" style="font-size:17.5px">[km/s]</tspan></text>
<text transform="translate(15,303.3) rotate(-90)" class="al"><tspan class="it">T</tspan><tspan class="als" dy="5" dx="0">MB</tspan><tspan dy="-5" dx="5">[K]</tspan></text>
</svg></body></html>
